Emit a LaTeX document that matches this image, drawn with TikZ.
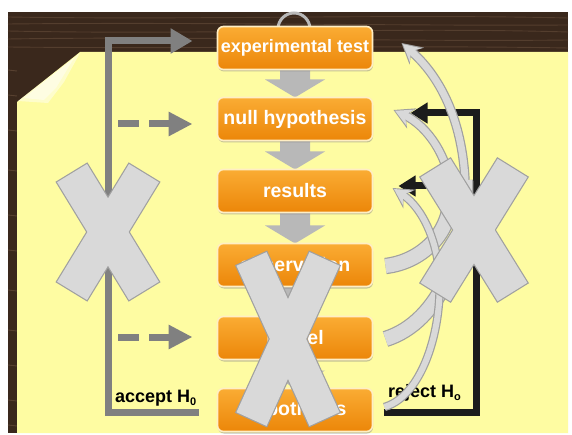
\documentclass[tikz,border=0pt]{standalone}
\usepackage{fontspec}
\setmainfont{Liberation Sans}
\usetikzlibrary{arrows.meta,calc,shadows}

\definecolor{wood}{RGB}{58,40,28}
\definecolor{woodgrain}{RGB}{96,72,54}
\definecolor{paper}{RGB}{254,252,162}
\definecolor{boxtop}{RGB}{250,172,52}
\definecolor{boxbot}{RGB}{236,134,8}
\definecolor{boxrim}{RGB}{255,238,196}
\definecolor{flowgray}{RGB}{128,128,128}
\definecolor{blockgray}{RGB}{184,184,184}
\definecolor{xfill}{RGB}{217,217,217}
\definecolor{xedge}{RGB}{160,160,160}
\definecolor{loopblack}{RGB}{28,28,28}
\definecolor{ringgray}{RGB}{185,185,185}

% subscript set in the same sans face
\newcommand\lowsub[1]{\raisebox{-3.5pt}{\fontsize{11}{11}\selectfont#1}}

% a large cross made of two crossing bars: centre x, centre y, half length, bar width, angle
\newcommand\drawbigx[5]{%
  \begin{scope}[shift={(#1,#2)}]
    \foreach \rr in {#5,-#5}{\draw[xedge, line width=2.4pt, line join=miter] [rotate=\rr] (-#3,-#4/2) rectangle (#3,#4/2);}
    \foreach \rr in {#5,-#5}{\fill[xfill] [rotate=\rr] (-#3,-#4/2) rectangle (#3,#4/2);}
  \end{scope}}

% wide grey block arrow pointing from one stage down to the next
\newcommand\stepdown[2]{%
  \fill[blockgray] ($(#1.south)+(-15,-2)$) -- ($(#1.south)+(15,-2)$)
    -- ($(#2.north)+(15,-18)$) -- ($(#2.north)+(30,-18)$) -- (#2.north)
    -- ($(#2.north)+(-30,-18)$) -- ($(#2.north)+(-15,-18)$) -- cycle;}

\begin{document}
\begin{tikzpicture}[x=1pt,y=-1pt,
  stage/.style={draw=boxrim, line width=1.6pt, rounded corners=6pt,
    top color=boxtop, bottom color=boxbot,
    minimum width=155pt, minimum height=43pt, inner sep=0pt, outer sep=0pt,
    text=white, font=\bfseries\fontsize{19.5}{20}\selectfont,
    drop shadow={shadow xshift=0.5pt, shadow yshift=-2pt, opacity=.45}},
  slot/.style={minimum width=155pt, minimum height=43pt, inner sep=0pt, outer sep=0pt},
  lbl/.style={inner sep=0pt, font=\bfseries\fontsize{18}{18}\selectfont, text=black},
  flowline/.style={draw=flowgray, line width=7pt},
  loopline/.style={draw=loopblack, line width=7pt}
]
\useasboundingbox (0,0) rectangle (572,435);
\fill[white] (0,0) rectangle (572,435);

% wooden board
\fill[wood] (8,12) rectangle (568,433);
\foreach \yy/\bb in {17/3,24/-2,31/4,39/-3,47/2}
  \draw[woodgrain, line width=.9pt, opacity=.7]
    (8,\yy) .. controls (200,\yy+\bb) and (400,\yy-\bb) .. (568,\yy+1);
\foreach \yy in {70,95,130,170,215,250,290,330,365,400,425}
  \draw[woodgrain, line width=.9pt, opacity=.8] (8,\yy) -- (17,\yy+1);

% sheet of paper with a curled corner
\fill[paper] (17,102) -- (80,52) -- (568,52) -- (568,433) -- (17,433) -- cycle;
\fill[white, opacity=.45] (18,101) -- (80,53) -- (64,82) -- (48,103) -- cycle;
\fill[white, opacity=.45] (24,98) -- (74,58) -- (56,88) -- (44,100) -- cycle;

% hanging ring
\draw[ringgray, line width=3pt] (294,29) circle[radius=16pt];

% slots of the six stages, used for the block arrows under the boxes
\path (295,48) node[slot] (e0) {}
      (295,119) node[slot] (n0) {}
      (295,191) node[slot] (r0) {}
      (295,265) node[slot] (o0) {}
      (295,338) node[slot] (m0) {}
      (295,410) node[slot] (h0) {};
\stepdown{e0}{n0}
\stepdown{n0}{r0}
\stepdown{r0}{o0}
\stepdown{o0}{m0}
\stepdown{m0}{h0}

% stages
\node[stage, font=\bfseries\fontsize{18}{20}\selectfont] (exp) at (e0) {experimental test};
\node[stage] (null) at (n0) {null hypothesis};
\node[stage] (res) at (r0) {results};
\node[stage] (obs) at (o0) {observation};
\node[stage] (model) at (m0) {model};
\node[stage] (hyp) at (h0) {hypothesis};

% accept branch: back to the experimental test
\draw[flowline, line join=miter, -{Triangle[length=22pt,width=24pt]}]
  ([xshift=-19pt,yshift=-2pt]hyp.west) -| (108,41) -- ([xshift=-25pt,yshift=7pt]exp.west);
\coordinate (dA) at (118,124);
\coordinate (dB) at (118,337);
\draw[flowline, dash pattern=on 21pt off 10pt, -{Triangle[length=24pt,width=23pt]}]
  (dA) -- ([xshift=-25pt,yshift=-5pt]null.west);
\draw[flowline, dash pattern=on 21pt off 10pt, -{Triangle[length=24pt,width=23pt]}]
  (dB) -- ([xshift=-25pt,yshift=1pt]model.west);

% reject branch: back to the null hypothesis and the results
\draw[loopline, line join=miter, -{Triangle[length=17pt,width=20pt]}]
  ([xshift=11pt,yshift=-2pt]hyp.east) -| (476,113) -- ([xshift=38pt,yshift=6pt]null.east);
\coordinate (jr) at (476,186);
\draw[loopline, -{Triangle[length=17pt,width=20pt]}]
  (jr) -- ([xshift=26pt,yshift=5pt]res.east);

\node[lbl, anchor=base west] (acc) at (115,402) {accept H\lowsub{0}};
\node[lbl, anchor=base west] (rej) at (388,397) {reject H\lowsub{o}};

% curved feedback arrows
\coordinate (tA) at ($(model.east)+(13,1)$);
\coordinate (hA) at ($(exp.east)+(29,-5)$);
\coordinate (tB) at ($(obs.east)+(13,1)$);
\coordinate (hB) at ($(null.east)+(21,-9)$);
\coordinate (tC) at ($(hyp.east)+(12,-3)$);
\coordinate (hC) at ($(res.east)+(20,-3)$);

\draw[xedge, line width=16.4pt] (tA) .. controls (440,322) and (468,250) .. (465,180);
\draw[xfill, line width=14pt] (tA) .. controls (440,322) and (468,250) .. (465,180);
\draw[xedge, line width=9.4pt, -{Stealth[length=20pt,width=22pt,inset=7pt]}]
  (465,180) .. controls (462,120) and (440,76) .. (hA);
\draw[xfill, line width=7pt, shorten >=1.8pt, -{Stealth[length=16.5pt,width=17.5pt,inset=6pt]}]
  (465,180) .. controls (462,120) and (440,76) .. (hA);

\draw[xedge, line width=16.4pt] (tB) .. controls (420,262) and (452,235) .. (451,192);
\draw[xfill, line width=14pt] (tB) .. controls (420,262) and (452,235) .. (451,192);
\draw[xedge, line width=9.4pt, -{Stealth[length=20pt,width=22pt,inset=7pt]}]
  (451,192) .. controls (449,158) and (428,126) .. (hB);
\draw[xfill, line width=7pt, shorten >=1.8pt, -{Stealth[length=16.5pt,width=17.5pt,inset=6pt]}]
  (451,192) .. controls (449,158) and (428,126) .. (hB);

\draw[xedge, line width=8.4pt, -{Stealth[length=20pt,width=22pt,inset=7pt]}]
  (tC) .. controls (428,394) and (447,310) .. (437,257) .. controls (431,226) and (417,204) .. (hC);
\draw[xfill, line width=6pt, shorten >=1.8pt, -{Stealth[length=16.5pt,width=17.5pt,inset=6pt]}]
  (tC) .. controls (428,394) and (447,310) .. (437,257) .. controls (431,226) and (417,204) .. (hC);

% crosses
\drawbigx{108}{232}{69}{35}{58.6}
\drawbigx{474}{230}{73}{35}{58.2}
\drawbigx{288}{339}{88}{33}{65.5}
\end{tikzpicture}
\end{document}
